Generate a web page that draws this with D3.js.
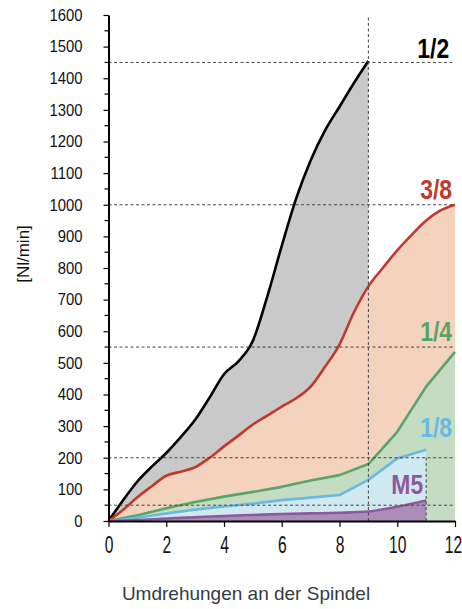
<!DOCTYPE html>
<html>
<head>
<meta charset="utf-8">
<script src="https://cdn.jsdelivr.net/npm/d3@7"></script>
<style>
  body { margin: 0; background: #fff; }
  svg { display: block; font-family: "Liberation Sans", Arial, sans-serif; }
</style>
</head>
<body>
<script>
// turns of the spindle and flow in Nl/min
const turnsHalf = [0, 0.5, 1, 1.5, 2, 2.5, 3, 3.5, 4, 4.5, 5, 5.5, 6, 6.5, 7, 7.5, 8, 8.5, 9, 9.5, 10, 10.5, 11, 11.5, 12];
const flowHalfInch = [0, 65, 125, 172, 215, 265, 320, 390, 464, 505, 570, 710, 870, 1020, 1140, 1235, 1310, 1385, 1455];
const flowThreeEighths = [0, 35, 75, 110, 143, 156, 170, 200, 236, 270, 305, 333, 362, 388, 425, 488, 558, 660, 742, 800, 856, 905, 950, 982, 1000];
const turnsWhole = [0, 1, 2, 3, 4, 5, 6, 7, 8, 9, 10, 11, 12];
const flowQuarter = [0, 18, 40, 60, 77, 92, 108, 128, 145, 180, 282, 425, 535];
const flowEighth = [0, 10, 24, 36, 46, 55, 66, 74, 82, 130, 198, 225];
const flowM5 = [0, 3, 8, 12, 16, 19, 22, 24, 26, 30, 45, 65];

const seriesNames = ["1/2", "3/8", "1/4", "1/8", "M5"];
const yTicks = [0, 100, 200, 300, 400, 500, 600, 700, 800, 900, 1000, 1100, 1200, 1300, 1400, 1500, 1600];
const yMinorTicks = [50, 150, 250, 350, 450, 550, 650, 750, 850, 950, 1050, 1150, 1250, 1350, 1450, 1550];
const xTicks = [0, 2, 4, 6, 8, 10, 12];
const refFlows = [1450, 1000, 550, 200, 50];
const refTurns = [9, 11];
const refTurnTops = [1600, 200];

const width = 462;
const height = 609;

const svg = d3.select("body").append("svg")
  .attr("width", width)
  .attr("height", height);

const x = d3.scaleLinear().domain([0, 12]).range([108.5, 455]);
const y = d3.scaleLinear().domain([0, 1600]).range([521, 15]);

const series = [
  { name: seriesNames[0], xs: turnsHalf, ys: flowHalfInch, line: "#000000", fill: "#c9c9c9", label: "#000000", curve: d3.curveMonotoneX },
  { name: seriesNames[1], xs: turnsHalf, ys: flowThreeEighths, line: "#c0392b", fill: "#f3d3bd", label: "#c0392b", curve: d3.curveMonotoneX },
  { name: seriesNames[2], xs: turnsWhole, ys: flowQuarter, line: "#5aa469", fill: "#c4dcc2", label: "#5aa469", curve: d3.curveLinear },
  { name: seriesNames[3], xs: turnsWhole, ys: flowEighth, line: "#6cb8e0", fill: "#d0e9f0", label: "#6cb8e0", curve: d3.curveLinear },
  { name: seriesNames[4], xs: turnsWhole, ys: flowM5, line: "#8b5a9c", fill: "#ab8dba", label: "#8b5a9c", curve: d3.curveMonotoneX }
];

series.forEach((s) => {
  const pts = s.ys.map((v, i) => [s.xs[i], v]);
  const area = d3.area()
    .x(d => x(d[0]))
    .y0(y(0))
    .y1(d => y(d[1]))
    .curve(s.curve);
  const line = d3.line()
    .x(d => x(d[0]))
    .y(d => y(d[1]))
    .curve(s.curve);
  svg.append("path")
    .attr("d", area(pts))
    .attr("fill", s.fill);
  svg.append("path")
    .attr("d", line(pts))
    .attr("fill", "none")
    .attr("stroke", s.line)
    .attr("stroke-width", 2.6)
    .attr("stroke-linejoin", "round");
});

// dashed reference lines
svg.selectAll(".hline")
  .data(refFlows)
  .enter()
  .append("line")
  .attr("x1", x(0))
  .attr("x2", x(12))
  .attr("y1", d => y(d))
  .attr("y2", d => y(d))
  .attr("stroke", "#444")
  .attr("stroke-width", 1)
  .attr("stroke-dasharray", "3,2.5");

svg.selectAll(".vline")
  .data(refTurns)
  .enter()
  .append("line")
  .attr("x1", d => x(d))
  .attr("x2", d => x(d))
  .attr("y1", y(0))
  .attr("y2", (d, i) => y(refTurnTops[i]))
  .attr("stroke", "#444")
  .attr("stroke-width", 1)
  .attr("stroke-dasharray", "3,2.5");

// axes
const yAxis = d3.axisLeft(y).tickValues(yTicks).tickFormat(d3.format("d"))
  .tickSize(5).tickSizeOuter(0).tickPadding(0);
const gy = svg.append("g")
  .attr("transform", "translate(" + x(0) + ",0)")
  .call(yAxis);
gy.select(".domain").attr("stroke-width", 2);
gy.selectAll(".tick line").attr("stroke-width", 1.2);
gy.selectAll(".tick text")
  .attr("font-size", 16.5)
  .attr("font-family", "Liberation Sans, Arial, sans-serif")
  .attr("fill", "#111")
  .attr("x", -26 / 0.9)
  .attr("transform", "scale(0.9,1)");

svg.append("g")
  .attr("transform", "translate(" + x(0) + ",0)")
  .selectAll("line")
  .data(yMinorTicks)
  .enter()
  .append("line")
  .attr("x1", -4)
  .attr("x2", 0)
  .attr("y1", d => y(d))
  .attr("y2", d => y(d))
  .attr("stroke", "#000")
  .attr("stroke-width", 1.2);

const xAxis = d3.axisBottom(x).tickValues(xTicks).tickSize(6).tickSizeOuter(0).tickPadding(10);
const gx = svg.append("g")
  .attr("transform", "translate(0," + y(0) + ")")
  .call(xAxis);
gx.select(".domain").attr("stroke-width", 2);
gx.selectAll(".tick line").attr("stroke-width", 1.2);
gx.selectAll(".tick text")
  .attr("font-size", 23)
  .attr("font-family", "Liberation Sans, Arial, sans-serif")
  .attr("fill", "#111")
  .attr("x", (d) => d === 12 ? -3 : 0)
  .attr("transform", "scale(0.68,1)");

// series labels
const labelSpots = [
  { turn: 11.8, flow: 1445 },
  { turn: 11.9, flow: 1000 },
  { turn: 11.9, flow: 550 },
  { turn: 11.9, flow: 246 },
  { turn: 10.9, flow: 66 }
];
series.forEach((s, i) => {
  const px = x(labelSpots[i].turn);
  svg.append("text")
    .attr("transform", "translate(" + px + "," + (y(labelSpots[i].flow) - 6) + ") scale(0.85,1)")
    .attr("text-anchor", "end")
    .attr("font-size", 27)
    .attr("font-weight", "bold")
    .attr("fill", s.label)
    .text(s.name);
});

// axis titles
svg.append("text")
  .attr("transform", "translate(29,254) rotate(-90)")
  .attr("text-anchor", "middle")
  .attr("font-size", 17)
  .attr("fill", "#111")
  .text("[Nl/min]");

svg.append("text")
  .attr("x", 246)
  .attr("y", 600)
  .attr("text-anchor", "middle")
  .attr("font-size", 19)
  .attr("fill", "#333b47")
  .text("Umdrehungen an der Spindel");
</script>
</body>
</html>
